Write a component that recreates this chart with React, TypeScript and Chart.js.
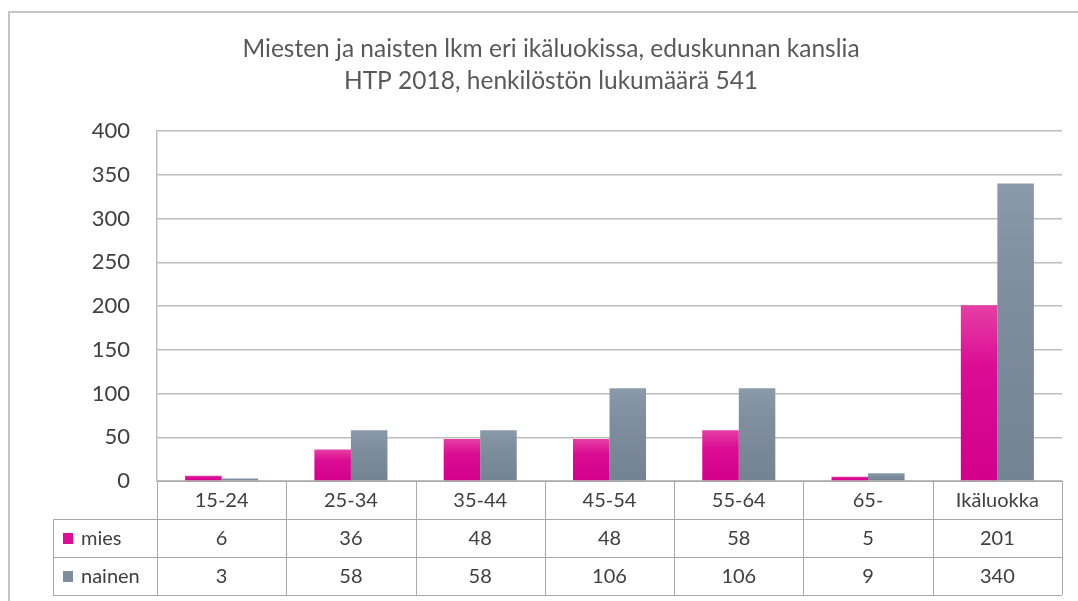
import { useEffect, useRef } from "react";
import { Chart, registerables } from "chart.js";

Chart.register(...registerables);

const categories = ["15-24", "25-34", "35-44", "45-54", "55-64", "65-", "Ikäluokka"];
const miesValues = [6, 36, 48, 48, 58, 5, 201];
const nainenValues = [3, 58, 58, 106, 106, 9, 340];
const seriesLabels = ["mies", "nainen"];
const titleLines = [
  "Miesten ja naisten lkm eri ikäluokissa, eduskunnan kanslia",
  "HTP 2018, henkilöstön lukumäärä 541",
];
const yMin = 0;
const yMax = 400;
const yStep = 50;

const FONT = 'Lato, "Open Sans", "Noto Sans", sans-serif';
const TEXT = "#404040";
const TITLE_COLOR = "#595959";
const GRID = "#bdbdbd";
const TABLE_LINE = "#a9a9a9";
const MIES_TOP = "#e53fa3";
const MIES_BOTTOM = "#d2008b";
const MIES_SOLID = "#dc0c95";
const NAINEN_TOP = "#8a9aaa";
const NAINEN_BOTTOM = "#738393";
const NAINEN_SOLID = "#7e8e9e";

const ROW_H = 38;
const LEGEND_LEFT = 53;
const TITLE_X = 551;
const TITLE_Y = [49, 81];

function barGradient(ctx: any, top: string, bottom: string, solid: string) {
  const chart = ctx.chart;
  const y = chart.scales && chart.scales.y;
  if (!y || ctx.type !== "data" || ctx.parsed == null) return solid;
  const yTop = y.getPixelForValue(ctx.parsed.y);
  const yBot = y.getPixelForValue(0);
  if (!isFinite(yTop) || !isFinite(yBot) || yBot - yTop < 1) return solid;
  const g = chart.ctx.createLinearGradient(0, yTop, 0, yBot);
  g.addColorStop(0, top);
  g.addColorStop(0.35, solid);
  g.addColorStop(1, bottom);
  return g;
}

const framePlugin = {
  id: "frame",
  beforeDraw(chart: any) {
    const c = chart.ctx;
    c.save();
    c.fillStyle = "#ffffff";
    c.fillRect(0, 0, chart.width, chart.height);
    c.strokeStyle = "#c4c4c4";
    c.lineWidth = 2;
    c.beginPath();
    c.moveTo(9, chart.height);
    c.lineTo(9, 12);
    c.lineTo(chart.width, 12);
    c.stroke();
    // chart title
    c.fillStyle = TITLE_COLOR;
    c.font = `24.5px ${FONT}`;
    c.textAlign = "center";
    c.textBaseline = "middle";
    titleLines.forEach((t, i) => c.fillText(t, TITLE_X, TITLE_Y[i]));
    c.restore();
  },
};

const tablePlugin = {
  id: "dataTable",
  afterDraw(chart: any) {
    const c = chart.ctx;
    const area = chart.chartArea;
    const xs = chart.scales.x;
    const n = categories.length;
    const left = area.left;
    const right = area.right;
    const w = (right - left) / n;
    const y0 = area.bottom;
    const y1 = y0 + ROW_H;
    const y2 = y1 + ROW_H;
    const y3 = y2 + ROW_H;
    c.save();
    c.strokeStyle = TABLE_LINE;
    c.lineWidth = 1;
    c.beginPath();
    const hl = (y: number, x0: number) => {
      c.moveTo(x0, Math.round(y) + 0.5);
      c.lineTo(right, Math.round(y) + 0.5);
    };
    hl(y0, left);
    hl(y1, LEGEND_LEFT);
    hl(y2, LEGEND_LEFT);
    hl(y3, LEGEND_LEFT);
    for (let i = 0; i <= n; i++) {
      const x = Math.round(left + i * w) + 0.5;
      c.moveTo(x, y0);
      c.lineTo(x, y3);
    }
    c.moveTo(LEGEND_LEFT + 0.5, y1);
    c.lineTo(LEGEND_LEFT + 0.5, y3);
    c.stroke();

    c.fillStyle = TEXT;
    c.font = `20px ${FONT}`;
    c.textAlign = "center";
    c.textBaseline = "middle";
    const rows = [categories, miesValues, nainenValues];
    const ys = [(y0 + y1) / 2, (y1 + y2) / 2, (y2 + y3) / 2];
    for (let r = 0; r < rows.length; r++) {
      for (let i = 0; i < n; i++) {
        const x = xs.getPixelForValue(i);
        c.fillText(String(rows[r][i]), x, ys[r] + 1);
      }
    }
    const swatches = [MIES_SOLID, NAINEN_SOLID];
    c.textAlign = "left";
    for (let s = 0; s < seriesLabels.length; s++) {
      const cy = ys[s + 1];
      c.fillStyle = swatches[s];
      c.fillRect(LEGEND_LEFT + 10, cy - 5, 10, 11);
      c.fillStyle = TEXT;
      c.fillText(seriesLabels[s], LEGEND_LEFT + 28, cy + 1);
    }
    c.restore();
  },
};

export default function App() {
  const ref = useRef<HTMLCanvasElement | null>(null);

  useEffect(() => {
    if (!ref.current) return;
    const chart = new Chart(ref.current, {
      type: "bar",
      data: {
        labels: categories,
        datasets: [
          {
            label: seriesLabels[0],
            data: miesValues,
            backgroundColor: (ctx: any) => barGradient(ctx, MIES_TOP, MIES_BOTTOM, MIES_SOLID),
            borderWidth: 0,
            categoryPercentage: 0.565,
            barPercentage: 1.0,
          },
          {
            label: seriesLabels[1],
            data: nainenValues,
            backgroundColor: (ctx: any) => barGradient(ctx, NAINEN_TOP, NAINEN_BOTTOM, NAINEN_SOLID),
            borderWidth: 0,
            categoryPercentage: 0.565,
            barPercentage: 1.0,
          },
        ],
      },
      options: {
        animation: false,
        responsive: false,
        maintainAspectRatio: false,
        layout: { padding: { top: 131, left: 0, right: 16, bottom: 120 } },
        plugins: {
          legend: { display: false },
          tooltip: { enabled: false },
          title: { display: false },
        },
        scales: {
          x: {
            display: false,
            offset: true,
          },
          y: {
            min: yMin,
            max: yMax,
            ticks: {
              stepSize: yStep,
              color: TEXT,
              font: { family: FONT, size: 22 },
              padding: 27,
            },
            grid: { color: GRID, lineWidth: 1.5, drawTicks: false },
            border: { color: GRID, width: 1.5 },
            afterFit: (scale: any) => {
              scale.width = 157;
            },
          },
        },
      },
      plugins: [framePlugin, tablePlugin],
    });
    return () => chart.destroy();
  }, []);

  return (
    <div style={{ position: "absolute", left: 0, top: 0, width: 1078, height: 601 }}>
      <canvas ref={ref} width={1078} height={601} />
    </div>
  );
}
